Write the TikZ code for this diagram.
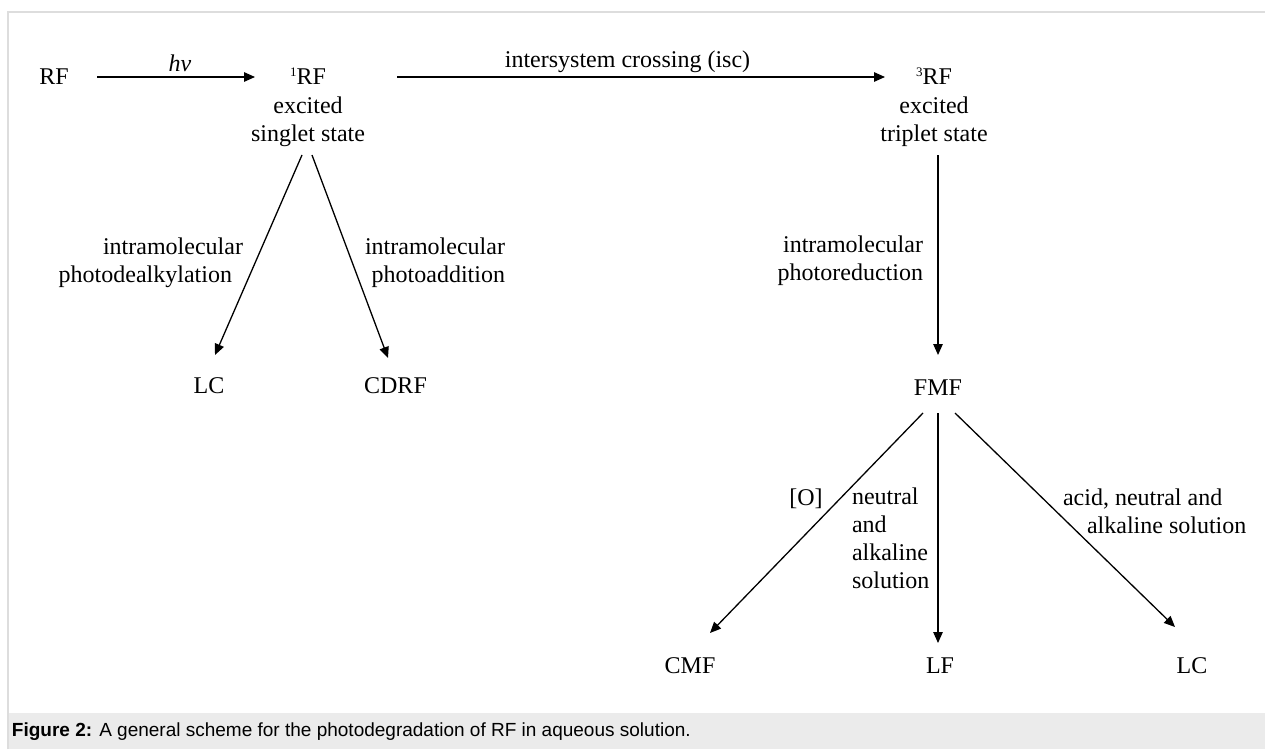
\documentclass[tikz,border=0pt]{standalone}
\usepackage{fontspec}
\setmainfont{Liberation Serif}
\newfontfamily\capfont{Liberation Sans}
\usetikzlibrary{arrows.meta}
\definecolor{framegray}{HTML}{DDDDDD}
\definecolor{capgray}{HTML}{EBEBEB}
\newcommand\supnum[1]{\raisebox{9pt}{\fontsize{13}{13}\selectfont #1}}
\begin{document}
\begin{tikzpicture}[x=1pt,y=-1pt,
  every node/.style={inner sep=0pt, outer sep=0pt},
  txt/.style={font=\fontsize{24}{28.5}\selectfont, anchor=base},
  lbl/.style={font=\fontsize{24}{27.7}\selectfont},
  arr/.style={-{Triangle[length=11pt,width=9.5pt]}, line width=1.3pt, black},
  capstyle/.style={font=\capfont\fontsize{19}{20}\selectfont, anchor=base west}
]
\useasboundingbox (0,0) rectangle (1265,749);
% frame and caption bar
\fill[capgray] (8,713) rectangle (1265,749);
\draw[framegray, line width=1.5pt] (8,749) -- (8,12) -- (1265,12);
\node[capstyle] (cap) at (12,736) {\textbf{Figure 2:} A general scheme for the photodegradation of RF in aqueous solution.};

% species (multi-line nodes are placed by the baseline of their last line)
\node[txt] (rf) at (54,85) {RF};
\node[txt, align=center] (s1) at (308,142) {\supnum{1}RF\\excited\\singlet state};
\node[txt, align=center] (t3) at (934,142) {\supnum{3}RF\\excited\\triplet state};
\node[txt] (lc1) at (209,393) {LC};
\node[txt] (cdrf) at (395.5,393) {CDRF};
\node[txt] (fmf) at (938,395) {FMF};
\node[txt] (cmf) at (690,673) {CMF};
\node[txt] (lf) at (940,673) {LF};
\node[txt] (lc2) at (1192,673) {LC};

% labels
\node[lbl, anchor=base] (hv) at (180,72) {\textit{hv}};
\node[lbl, anchor=base] (isc) at (627.5,68) {intersystem crossing (isc)};
\node[lbl, align=right, anchor=base east] (l1) at (243,282) {intramolecular\\photodealkylation\hspace*{11pt}};
\node[lbl, align=right, anchor=base east] (l2) at (505,282) {intramolecular\\photoaddition};
\node[lbl, align=right, anchor=base east] (l3) at (923,280) {intramolecular\\photoreduction};
\node[lbl, anchor=base] (l4) at (806,505) {[O]};
\node[lbl, align=left, anchor=base west] (l5) at (852,588) {neutral\\and\\alkaline\\solution};
\node[lbl, align=left, anchor=base west] (l6) at (1063,533) {acid, neutral and\\\hspace*{24pt}alkaline solution};

% connectors
\draw[arr] ([shift={(43,-8)}]rf.base) -- ([shift={(-53,-65)}]s1.base);
\draw[arr] ([shift={(89,-65)}]s1.base) -- ([shift={(-49,-65)}]t3.base);
\draw[arr] ([shift={(-6,13)}]s1.base) -- ([shift={(6,-38)}]lc1.base);
\draw[arr] ([shift={(4,13)}]s1.base) -- ([shift={(-7.5,-35)}]cdrf.base);
\draw[arr] ([shift={(4,13)}]t3.base) -- ([shift={(0,-40)}]fmf.base);
\draw[arr] ([shift={(-15,18)}]fmf.base) -- ([shift={(20,-40)}]cmf.base);
\draw[arr] ([shift={(0,18)}]fmf.base) -- ([shift={(-2,-30)}]lf.base);
\draw[arr] ([shift={(17,18)}]fmf.base) -- ([shift={(-17,-46)}]lc2.base);
\end{tikzpicture}
\end{document}
